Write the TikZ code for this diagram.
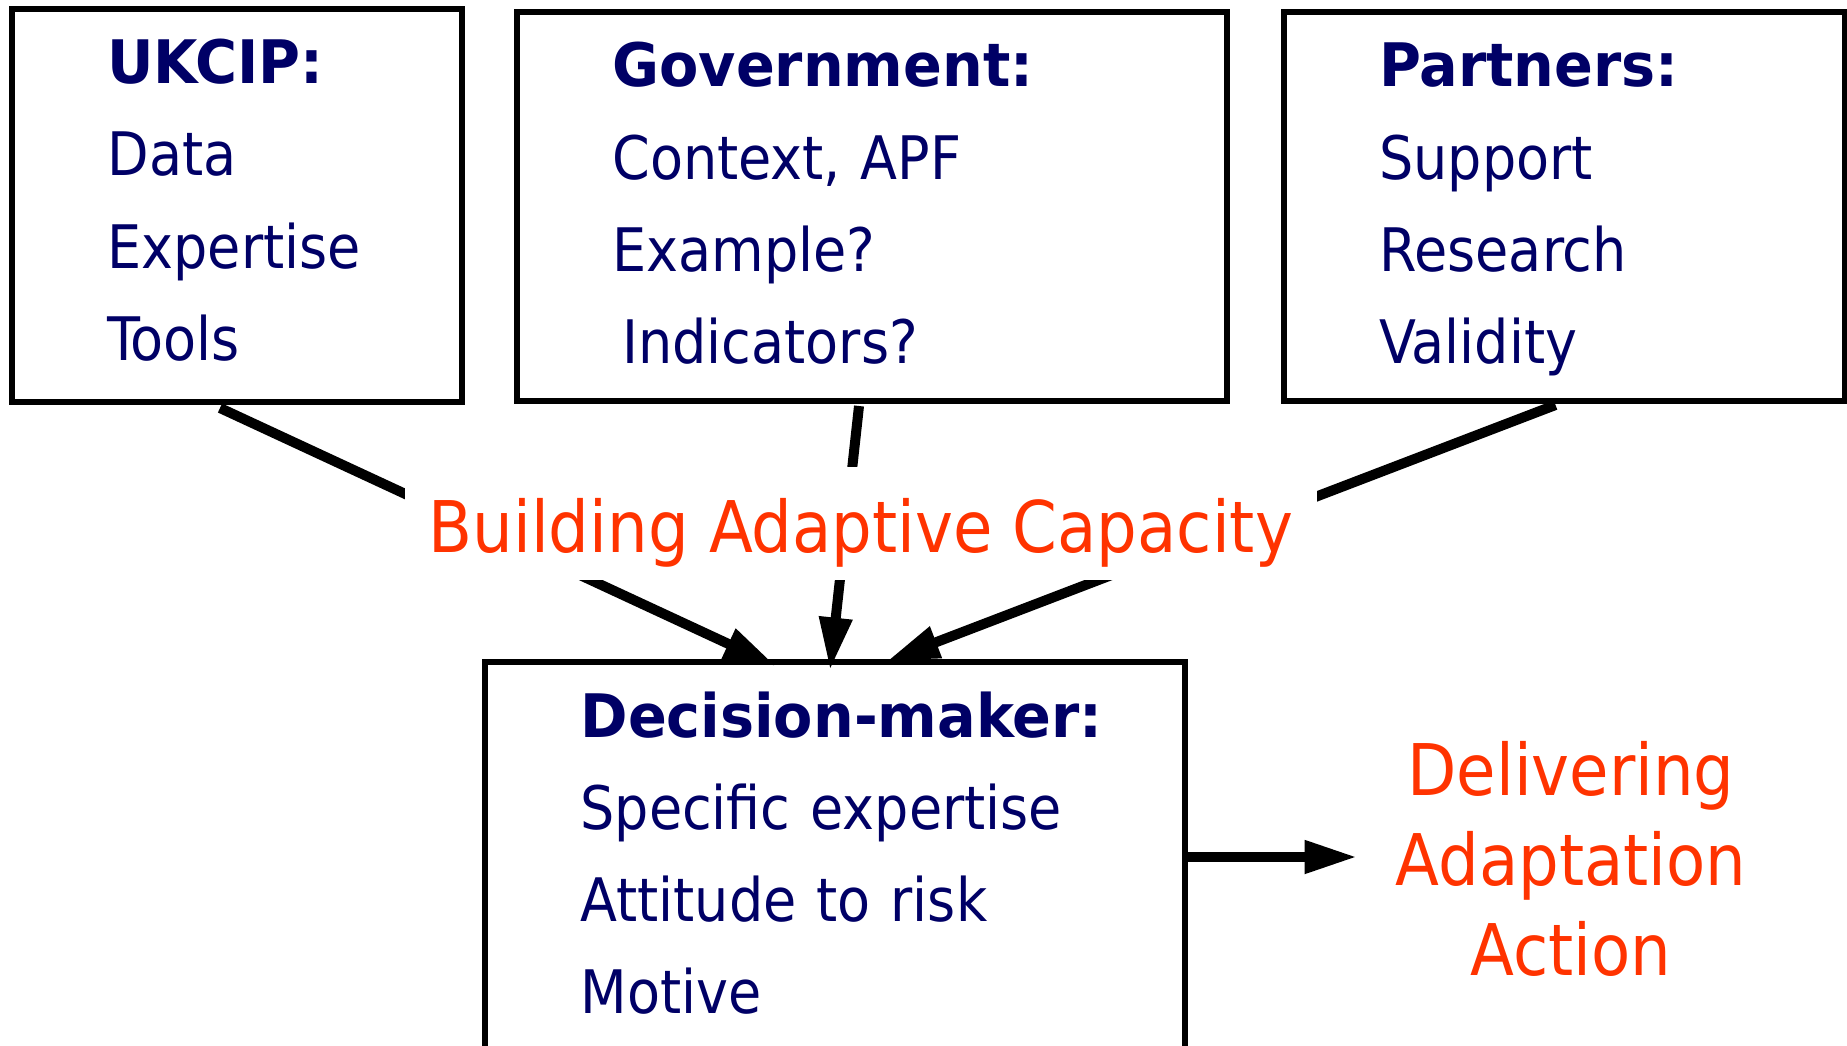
\documentclass[tikz,border=0pt]{standalone}
\usepackage{fontspec}
\setmainfont{DejaVuSansCondensed}[Extension=.ttf,BoldFont=DejaVuSansCondensed-Bold,
    BoldFeatures={FakeStretch=1.06}]
\usepackage{tikz}
\usetikzlibrary{arrows.meta,calc}

\definecolor{navy}{RGB}{0,0,102}
\definecolor{redorange}{RGB}{255,51,0}

\begin{document}
\begin{tikzpicture}[x=0.4pt,y=-0.4pt,>={Triangle[length=21pt,width=12.5pt]},
    link/.style={->,line width=4pt},
    redtext/.style={text=redorange,font=\fontsize{28.5}{36}\selectfont}]

    \tikzstyle{box}=[draw,line width=2.3pt,anchor=north west,inner sep=0pt,outer sep=0pt]
    \tikzstyle{boxtext}=[anchor=base west,text width=230pt,align=left,inner sep=0pt,
        text=navy,font=\fontsize{24}{36.8}\selectfont]

    \useasboundingbox (0,0) rectangle (1847,1046);
    \clip (0,0) rectangle (1847,1046);

    % the four boxes
    \node[box,minimum width=180pt,minimum height=157.2pt]   (ukcip)    at (12,9)    {};
    \node[box,minimum width=284pt,minimum height=155.6pt]   (gov)      at (517,12)  {};
    \node[box,minimum width=224.4pt,minimum height=155.6pt] (partners) at (1284,12) {};
    \node[box,minimum width=280pt,minimum height=168pt]     (decision) at (485,662) {};

    \node[boxtext] (ukcip-text) at ($(ukcip.north west)+(95,75)$)
        {\textbf{UKCIP:}\\Data\\Expertise\\Tools};
    \node[boxtext] (gov-text) at ($(gov.north west)+(95,75)$)
        {\textbf{Government:}\\Context, APF\\Example?\\\hspace*{4pt}Indicators?};
    \node[boxtext] (partners-text) at ($(partners.north west)+(95,75)$)
        {\textbf{Partners:}\\Support\\Research\\Validity};
    \node[boxtext] (decision-text) at ($(decision.north west)+(95,75)$)
        {\textbf{Decision-maker:}\\Specific expertise\\Attitude to risk\\Motive};

    % arrows into the decision-maker
    \draw[link] ($(ukcip.south)+(-17,6)$)    -- ($(decision.north)+(-59,4)$);
    \draw[link] ($(gov.south)+(-13,5)$)      -- ($(decision.north)+(-5,8)$);
    \draw[link] ($(partners.south)+(-9,4)$)  -- ($(decision.north)+(52,-1)$);

    \coordinate (out) at (1357,857);
    \draw[link] (decision.east |- out) -- (out);

    \node[redtext,fill=white,inner sep=0pt,minimum width=364.4pt,
        text height=34pt,text depth=11.2pt,anchor=base] (capacity) at (861,552)
        {Building Adaptive Capacity};
    \node[redtext,text width=300pt,align=center,inner sep=0pt,anchor=base] (action) at (1571,795)
        {Delivering\\Adaptation\\Action};
\end{tikzpicture}
\end{document}
